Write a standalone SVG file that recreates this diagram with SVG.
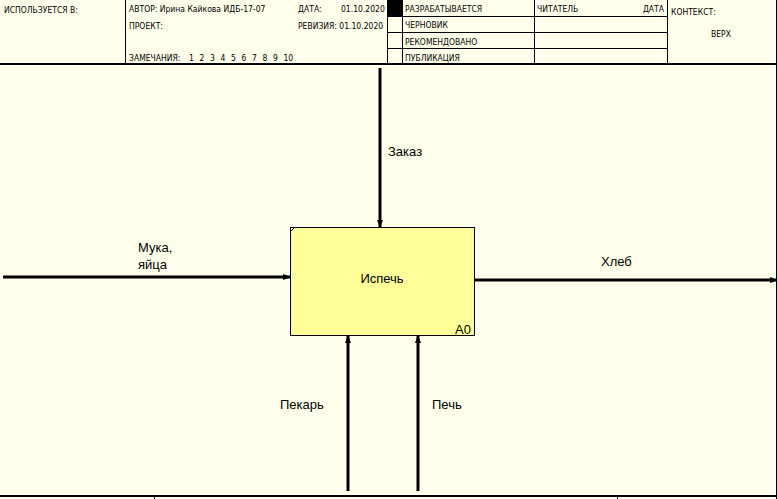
<svg xmlns="http://www.w3.org/2000/svg" width="777" height="499" viewBox="0 0 777 499">
<style>
.t{font-family:"DejaVu Sans Condensed","DejaVu Sans","Liberation Sans",sans-serif;font-size:8.5px;fill:#000}
.l{font-family:"Liberation Sans",Arial,sans-serif;font-size:13px;fill:#000}
.g{stroke:#000;stroke-width:1;fill:none}
.a{stroke:#000;stroke-width:3;fill:none}
</style>
<defs>
<marker id="ah" markerWidth="8" markerHeight="6" refX="7" refY="3" orient="auto" markerUnits="userSpaceOnUse">
<path d="M0,0 L8,3 L0,6 Z" fill="#000"/>
</marker>
</defs>
<rect x="0" y="0" width="777" height="499" fill="#FFFFEB"/>
<g id="header">
<line class="g" x1="0" y1="64" x2="777" y2="64" style="stroke-width:2"/>
<line class="g" x1="125.5" y1="0" x2="125.5" y2="64"/>
<line class="g" x1="387.5" y1="0" x2="387.5" y2="64"/>
<line class="g" x1="402.5" y1="0" x2="402.5" y2="64"/>
<line class="g" x1="534.5" y1="0" x2="534.5" y2="64"/>
<line class="g" x1="667.5" y1="0" x2="667.5" y2="64"/>
<line class="g" x1="776.5" y1="0" x2="776.5" y2="499"/>
<line class="g" x1="387" y1="16.5" x2="667" y2="16.5"/>
<line class="g" x1="387" y1="32.5" x2="667" y2="32.5"/>
<line class="g" x1="387" y1="48.5" x2="667" y2="48.5"/>
<rect x="388" y="0" width="14" height="16" fill="#000"/>
<text class="t" x="4" y="13">ИСПОЛЬЗУЕТСЯ В:</text>
<text class="t" x="129" y="12">АВТОР: Ирина Кайкова ИДБ-17-07</text>
<text class="t" x="298" y="12">ДАТА:</text>
<text class="t" x="341" y="12">01.10.2020</text>
<text class="t" x="129" y="29">ПРОЕКТ:</text>
<text class="t" x="298" y="29">РЕВИЗИЯ: 01.10.2020</text>
<text class="t" x="129" y="61">ЗАМЕЧАНИЯ:</text>
<text class="t" x="189" y="61" word-spacing="3.2">1 2 3 4 5 6 7 8 9 10</text>
<text class="t" x="405" y="12">РАЗРАБАТЫВАЕТСЯ</text>
<text class="t" x="405" y="28">ЧЕРНОВИК</text>
<text class="t" x="405" y="45">РЕКОМЕНДОВАНО</text>
<text class="t" x="405" y="61">ПУБЛИКАЦИЯ</text>
<text class="t" x="537" y="12">ЧИТАТЕЛЬ</text>
<text class="t" x="664" y="12" text-anchor="end">ДАТА</text>
<text class="t" x="671" y="15">КОНТЕКСТ:</text>
<text class="t" x="721" y="37" text-anchor="middle">ВЕРХ</text>
</g>
<g id="footer">
<line class="g" x1="0" y1="496" x2="777" y2="496" style="stroke-width:2"/>
<line class="g" x1="154.5" y1="496" x2="154.5" y2="499"/>
<line class="g" x1="617.5" y1="496" x2="617.5" y2="499"/>
</g>
<g id="A0">
<rect x="290.5" y="227.5" width="184" height="108" fill="#FFFF99" stroke="#000" stroke-width="1"/>
<line class="g" x1="291" y1="231" x2="294" y2="228"/>
<text class="l" x="382" y="283" text-anchor="middle">Испечь</text>
<text class="l" x="455" y="334">A0</text>
</g>
<g id="connectors">
<line class="a" x1="380" y1="68" x2="380" y2="227" marker-end="url(#ah)"/>
<line class="a" x1="3" y1="277" x2="290" y2="277" marker-end="url(#ah)"/>
<line class="a" x1="474" y1="280" x2="777" y2="280" marker-end="url(#ah)"/>
<line class="a" x1="348" y1="491" x2="348" y2="336" marker-end="url(#ah)"/>
<line class="a" x1="418" y1="491" x2="418" y2="336" marker-end="url(#ah)"/>
<text class="l" x="388" y="156">Заказ</text>
<text class="l" x="138" y="252">Мука,</text>
<text class="l" x="138" y="269">яйца</text>
<text class="l" x="601" y="266">Хлеб</text>
<text class="l" x="280" y="409">Пекарь</text>
<text class="l" x="432" y="409">Печь</text>
</g>
</svg>
